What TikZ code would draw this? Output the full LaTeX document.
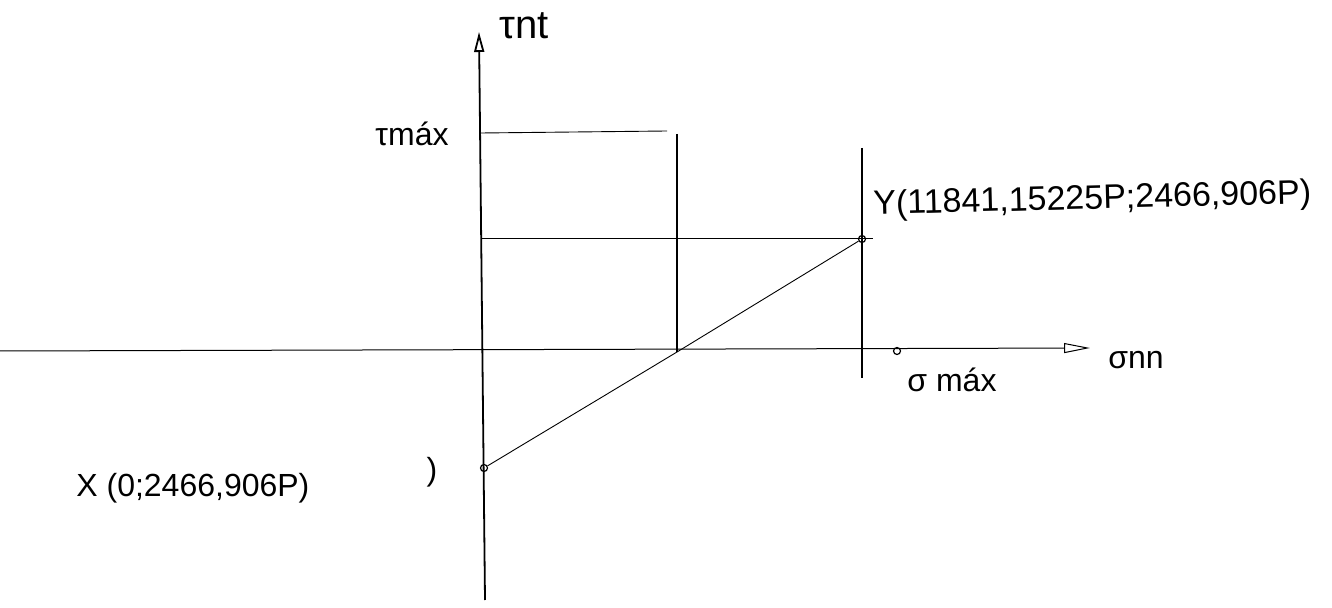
\documentclass[tikz,border=0pt]{standalone}
\usepackage{fontspec}
\setmainfont{Liberation Sans}
\usetikzlibrary{arrows.meta}

\begin{document}
\begin{tikzpicture}[
  x=0.5pt, y=-0.5pt,
  axis/.style={-{Triangle[open, length=#1, width=5pt]}},
  axis/.default=10pt,
  guide/.style={line width=0.45pt},
  lbl/.style={font=\fontsize{16}{19}\selectfont, inner sep=0pt},
  pt/.style={circle, draw, line width=0.6pt, inner sep=0pt, minimum size=3.5pt}
]
\useasboundingbox (0,0) rectangle (1332,608);

% axes
\coordinate (vbot) at (485,600);
\coordinate (vtop) at (479,32);
\coordinate (hleft) at (0,351);
\coordinate (hright) at (1090,348);
\draw[axis, line width=0.9pt] (vbot) -- (vtop);
\draw[axis=13pt, line width=0.5pt] (hleft) -- (hright);

% points
\coordinate (C) at (677,352);
\node[pt] (X) at (484,468) {};
\node[pt] (Y) at (862,239) {};
\node[pt] (smax) at (897,351) {};

% guide lines
\coordinate (tauL) at (481,133);
\coordinate (tauR) at (667,131);
\coordinate (cTop) at (677,134);
\coordinate (yL) at (482,238);
\coordinate (yR) at (873,238);
\coordinate (yTop) at (862,148);
\coordinate (yBot) at (862,378);
\draw[guide] (tauL) -- (tauR);
\draw[guide, line width=0.7pt] (cTop) -- (C);
\draw[guide] (yL) -- (yR);
\draw[guide, line width=0.8pt] (yTop) -- (yBot);
\draw[guide] (X) -- (C) -- (Y);

% labels
\node[lbl, font=\fontsize{20}{24}\selectfont] (taunt) at (524,26) {τnt};
\node[lbl] (taumax) at (412,134) {τmáx};
\node[lbl, font=\fontsize{17}{20}\selectfont, rotate=1.5, anchor=west] (ylab) at (873,206) {Y(11841,15225P;2466,906P)};
\node[lbl] (sigmax) at (952,380) {σ máx};
\node[lbl] (signn) at (1136,360) {σnn};
\node[lbl, anchor=west] (xlab) at (76,488) {X (0;2466,906P)};
\node[lbl] (paren) at (432,472) {)};
\end{tikzpicture}
\end{document}
